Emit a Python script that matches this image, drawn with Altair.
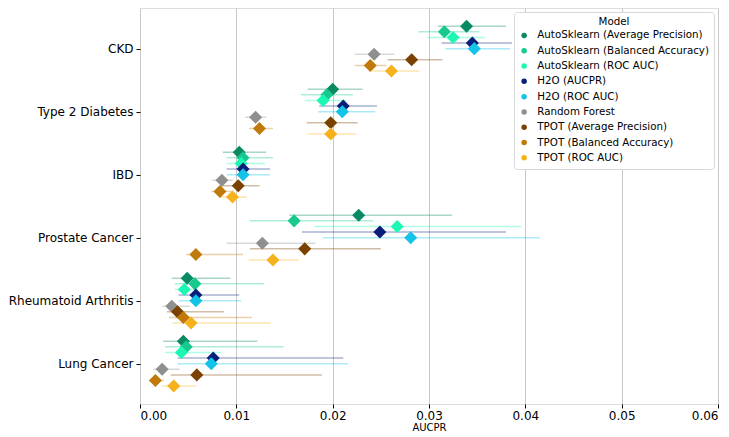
import json
import altair as alt
import pandas as pd

categories = ["CKD", "Type 2 Diabetes", "IBD", "Prostate Cancer", "Rheumatoid Arthritis", "Lung Cancer"]
models = [
    "AutoSklearn (Average Precision)",
    "AutoSklearn (Balanced Accuracy)",
    "AutoSklearn (ROC AUC)",
    "H2O (AUCPR)",
    "H2O (ROC AUC)",
    "Random Forest",
    "TPOT (Average Precision)",
    "TPOT (Balanced Accuracy)",
    "TPOT (ROC AUC)",
]
colors = ["#0a8a64", "#17c88f", "#1cf8b4", "#0a1f7a", "#14c3e8", "#8f8f8f", "#7b4100", "#c07a0a", "#f6b21c"]

# AUCPR mean values: rows = categories, columns = models
aucpr = [
    [0.0339, 0.0316, 0.0325, 0.0345, 0.0347, 0.0243, 0.0282, 0.0239, 0.0261],
    [0.0200, 0.0194, 0.0190, 0.0211, 0.0210, 0.0120, 0.0198, 0.0124, 0.0198],
    [0.0103, 0.0107, 0.0105, 0.0107, 0.0107, 0.0085, 0.0102, 0.0083, 0.0096],
    [0.0227, 0.0160, 0.0267, 0.0249, 0.0281, 0.0127, 0.0171, 0.0058, 0.0138],
    [0.0049, 0.0057, 0.0046, 0.0058, 0.0058, 0.0033, 0.0039, 0.0045, 0.0053],
    [0.0045, 0.0048, 0.0043, 0.0076, 0.0074, 0.0023, 0.0059, 0.0016, 0.0035],
]
lower = [
    [0.0309, 0.0289, 0.0298, 0.0313, 0.0317, 0.0223, 0.0257, 0.0223, 0.0241],
    [0.0174, 0.0167, 0.0171, 0.0186, 0.0185, 0.0109, 0.0173, 0.0113, 0.0174],
    [0.0086, 0.0090, 0.0090, 0.0090, 0.0090, 0.0075, 0.0084, 0.0074, 0.0083],
    [0.0155, 0.0114, 0.0181, 0.0168, 0.0190, 0.0090, 0.0114, 0.0048, 0.0113],
    [0.0033, 0.0036, 0.0036, 0.0040, 0.0040, 0.0023, 0.0028, 0.0030, 0.0034],
    [0.0024, 0.0026, 0.0026, 0.0039, 0.0039, 0.0014, 0.0032, 0.0010, 0.0023],
]
upper = [
    [0.0380, 0.0352, 0.0358, 0.0386, 0.0384, 0.0264, 0.0314, 0.0256, 0.0290],
    [0.0231, 0.0221, 0.0214, 0.0246, 0.0244, 0.0131, 0.0226, 0.0138, 0.0224],
    [0.0131, 0.0138, 0.0130, 0.0135, 0.0135, 0.0096, 0.0124, 0.0095, 0.0111],
    [0.0324, 0.0242, 0.0396, 0.0380, 0.0415, 0.0182, 0.0250, 0.0107, 0.0165],
    [0.0094, 0.0129, 0.0056, 0.0103, 0.0105, 0.0052, 0.0087, 0.0116, 0.0136],
    [0.0122, 0.0149, 0.0084, 0.0211, 0.0216, 0.0041, 0.0189, 0.0025, 0.0058],
]

dodge = 0.8 / len(models)
rows = []
for ci, cat in enumerate(categories):
    for mi, m in enumerate(models):
        rows.append({
            "Disease": cat,
            "Model": m,
            "pos": ci + (mi - (len(models) - 1) / 2) * dodge,
            "AUCPR": aucpr[ci][mi],
            "lo": lower[ci][mi],
            "hi": upper[ci][mi],
        })
df = pd.DataFrame(rows)

label_expr = json.dumps(categories) + "[datum.value]"

color_scale = alt.Scale(domain=models, range=colors)
legend = alt.Legend(
    title="Model",
    orient="top-right",
    offset=4,
    symbolType="circle",
    symbolSize=30,
    symbolOpacity=1,
    symbolStrokeWidth=0,
    labelFontSize=10.3,
    titleFontSize=10.3,
    titleFontWeight="normal",
    titleAnchor="middle",
    titleAlign="center",
    titlePadding=3,
    labelColor="#000000",
    titleColor="#000000",
    fillColor="#ffffff",
    strokeColor="#d8d8d8",
    cornerRadius=3,
    padding=5,
    rowPadding=4.3,
    labelOffset=8,
    labelLimit=300,
)
y_enc = alt.Y(
    "pos:Q",
    scale=alt.Scale(domain=[-0.645, len(categories) - 1 + 0.64], reverse=True, nice=False, zero=False),
    axis=alt.Axis(
        values=list(range(len(categories))),
        labelExpr=label_expr,
        title=None,
        grid=False,
        labelFontSize=12,
        labelColor="#000000",
        tickColor="#000000",
        tickSize=4,
        labelPadding=3,
        domain=False,
    ),
)
x_scale = alt.Scale(domain=[0, 0.06], nice=False)
x_axis = alt.Axis(
    values=[0, 0.01, 0.02, 0.03, 0.04, 0.05, 0.06],
    format=".2f",
    title="AUCPR",
    titleFontSize=10,
    titleFontWeight="normal",
    titleColor="#000000",
    titlePadding=1,
    labelFontSize=12,
    labelColor="#000000",
    tickColor="#000000",
    tickSize=4,
    labelPadding=2,
    grid=True,
    gridColor="#c8c8c8",
    gridWidth=1,
    domain=False,
)

rules = alt.Chart(df).mark_rule(strokeWidth=1.5, opacity=0.35).encode(
    x=alt.X("lo:Q", scale=x_scale, axis=x_axis),
    x2="hi:Q",
    y=y_enc,
    color=alt.Color("Model:N", scale=color_scale, legend=legend),
)

points = alt.Chart(df).mark_point(shape="diamond", filled=True, size=170, opacity=1).encode(
    x=alt.X("AUCPR:Q", scale=x_scale, axis=x_axis),
    y=y_enc,
    color=alt.Color("Model:N", scale=color_scale, legend=legend),
)

chart = alt.layer(rules, points).properties(
    width=578, height=396, padding=0
).configure_view(stroke="#555555", strokeWidth=1).configure(font="DejaVu Sans")

chart.save("out.html", embed_options={"renderer": "svg", "actions": False})
